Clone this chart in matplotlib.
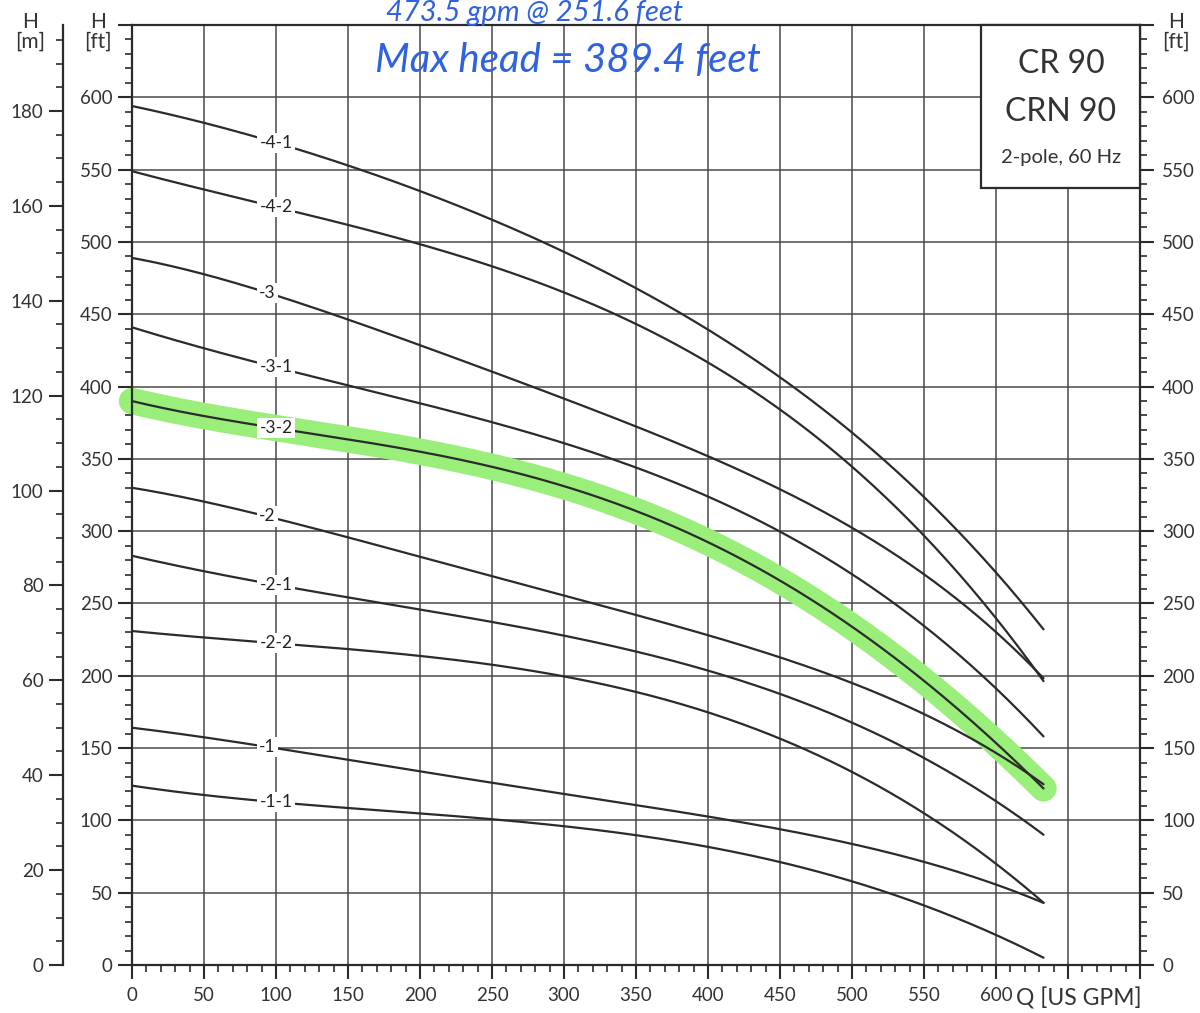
import numpy as np
import matplotlib
matplotlib.use("Agg")
import matplotlib.pyplot as plt

plt.rcParams['font.family'] = ['Lato', 'DejaVu Sans']

# ---------------- data ----------------
flow = [0, 50, 100, 150, 200, 250, 300, 350, 400, 450, 500, 550, 600, 633]
curve_names = ['-4-1', '-4-2', '-3', '-3-1', '-3-2', '-2', '-2-1', '-2-2', '-1', '-1-1']
h_41 = [594, 582, 567, 552, 538, 516, 493, 467, 439, 406, 368, 323, 275, 232]
h_42 = [549, 534, 521, 511, 502, 485, 467, 444, 413, 381, 342, 299, 250, 196]
h_3 = [489, 477, 461, 445, 429, 413, 395, 373, 349, 325, 300, 272, 240, 198]
h_31 = [441, 425, 412, 401, 390, 377, 361, 342, 323, 300, 270, 235, 193, 158]
h_32 = [390, 378, 370, 364, 356, 346, 331, 313, 293, 264, 232, 199, 156, 122]
h_2 = [330, 320, 310, 295, 282, 268, 257, 242, 227, 213, 196, 173, 146, 125]
h_21 = [283, 271, 262, 254, 247, 238, 229, 216, 202, 187, 167, 144, 116, 90]
h_22 = [231, 225, 221, 219, 215, 209, 200, 188, 173, 156, 133, 107, 71, 43]
h_1 = [164, 160, 152, 141, 131, 125, 118, 112, 105, 95, 82, 70, 55, 43]
h_11 = [124, 118, 113, 108, 105, 100, 96, 90, 83, 71, 57, 40, 23, 5]
curves = [h_41, h_42, h_3, h_31, h_32, h_2, h_21, h_22, h_1, h_11]
highlight = '-3-2'
x_ticks = [0, 50, 100, 150, 200, 250, 300, 350, 400, 450, 500, 550, 600]
note_top = "473.5 gpm @ 251.6 feet"
note_max = "Max head = 389.4 feet"


def smooth(x, y, deg=4, n=300):
    """Least-squares polynomial through the read points (for a smooth drawn curve)."""
    x = np.asarray(x, float); y = np.asarray(y, float)
    w = np.ones_like(x); w[0] = 5; w[-1] = 5
    p = np.polyfit(x, y, deg, w=w)
    xs = np.linspace(x[0], x[-1], n)
    return xs, np.polyval(p, xs)


W, H = 1200, 1013
fig = plt.figure(figsize=(W / 100, H / 100), dpi=100)
L, R, B, T = 132 / W, 1140 / W, (H - 965) / H, (H - 25) / H
ax = fig.add_axes([L, B, R - L, T - B])
ax.set_xlim(0, 700)
ax.set_ylim(0, 650)

gridc = '#4a4a4a'
for xv in range(50, 700, 50):
    ax.axvline(xv, color=gridc, lw=1.1, zorder=1)
for yv in range(50, 650, 50):
    ax.axhline(yv, color=gridc, lw=1.1, zorder=1)

# highlight
hx, hy = smooth(flow, curves[curve_names.index(highlight)])
ax.plot(hx, hy, color='#9aee7a', lw=19, solid_capstyle='round', zorder=2,
        clip_on=False)

for name, hv in zip(curve_names, curves):
    sx, sy = smooth(flow, hv)
    ax.plot(sx, sy, color='#2b2b2b', lw=1.6, zorder=3, solid_capstyle='round')
    lx = 94 if len(name) == 2 else 100
    ly = np.interp(lx, sx, sy)
    ax.text(lx, ly, name, ha='center', va='center', fontsize=12.5, color='#222222',
            zorder=4, bbox=dict(boxstyle='square,pad=0.12', fc='white', ec='none'))

for s in ax.spines.values():
    s.set_color('#2b2b2b')
    s.set_linewidth(1.6)

# bottom ticks
ax.set_xticks(x_ticks + [650, 700])
ax.set_xticklabels([str(v) for v in x_ticks] + ['', ''])
ax.set_xticks(np.arange(0, 701, 10), minor=True)
ax.tick_params(axis='x', which='major', direction='out', length=10, width=1.5,
               labelsize=13.5, pad=6, colors='#2b2b2b', labelcolor='#333333')
ax.tick_params(axis='x', which='minor', direction='out', length=5, width=1.2,
               colors='#2b2b2b')

# left ft ticks
ax.set_yticks(np.arange(0, 651, 50))
ax.set_yticklabels([str(v) if v <= 600 else '' for v in range(0, 651, 50)])
ax.set_yticks(np.arange(0, 651, 10), minor=True)
ax.tick_params(axis='y', which='major', direction='out', length=10, width=1.5,
               labelsize=13.5, pad=4, colors='#2b2b2b', labelcolor='#333333')
ax.tick_params(axis='y', which='minor', direction='out', length=5, width=1.2,
               colors='#2b2b2b')

# right ft axis
axr = ax.twinx()
axr.set_ylim(0, 650)
axr.set_yticks(np.arange(0, 651, 50))
axr.set_yticklabels([str(v) if v <= 600 else '' for v in range(0, 651, 50)])
axr.set_yticks(np.arange(0, 651, 10), minor=True)
axr.tick_params(axis='y', which='major', direction='out', length=10, width=1.5,
                labelsize=13.5, pad=6, colors='#2b2b2b', labelcolor='#333333')
axr.tick_params(axis='y', which='minor', direction='out', length=5, width=1.2,
                colors='#2b2b2b')
for s in axr.spines.values():
    s.set_visible(False)

# meter axis
axm = ax.twinx()
axm.set_ylim(0, 650 * 0.3048)
axm.yaxis.set_ticks_position('left')
axm.yaxis.set_label_position('left')
for k, s in axm.spines.items():
    s.set_visible(k == 'left')
axm.spines['left'].set_position(('outward', 69 * 0.72))
axm.spines['left'].set_color('#2b2b2b')
axm.spines['left'].set_linewidth(1.6)
axm.set_yticks(np.arange(0, 181, 20))
axm.set_yticks(np.arange(0, 196, 5), minor=True)
axm.tick_params(axis='y', which='major', direction='out', length=10, width=1.5,
                labelsize=13.5, pad=4, colors='#2b2b2b', labelcolor='#333333')
axm.tick_params(axis='y', which='minor', direction='out', length=5, width=1.2,
                colors='#2b2b2b')


def ftxt(x, y, s, **kw):
    fig.text(x / W, 1 - y / H, s, **kw)


ftxt(30, 32, "H\n[m]", ha='center', va='center', fontsize=15, color='#333333', linespacing=1.0)
ftxt(98, 32, "H\n[ft]", ha='center', va='center', fontsize=15, color='#333333', linespacing=1.0)
ftxt(1176, 32, "H\n[ft]", ha='center', va='center', fontsize=15, color='#333333', linespacing=1.0)
ftxt(1079, 998, "Q [US GPM]", ha='center', va='center', fontsize=16.5, color='#333333')

# info box
box_x0, box_x1 = 981, 1140
box_y0, box_y1 = 25, 188
fig.patches.append(plt.Rectangle((box_x0 / W, 1 - box_y1 / H), (box_x1 - box_x0) / W,
                                 (box_y1 - box_y0) / H, transform=fig.transFigure,
                                 fc='white', ec='#2b2b2b', lw=1.6, zorder=5))
ftxt(1061, 64, "CR 90", ha='center', va='center', fontsize=23, color='#333333', zorder=6)
ftxt(1061, 112, "CRN 90", ha='center', va='center', fontsize=23, color='#333333', zorder=6)
ftxt(1061, 157, "2-pole, 60 Hz", ha='center', va='center', fontsize=14.5, color='#333333', zorder=6)

# handwritten notes
blue = '#2f62e0'
ftxt(535, 0, note_top, ha='center', va='top', fontsize=21, color=blue, style='italic')
ftxt(568, 60, note_max, ha='center', va='center', fontsize=29, color=blue, style='italic')

fig.savefig('out.png', dpi=100, facecolor='white')
